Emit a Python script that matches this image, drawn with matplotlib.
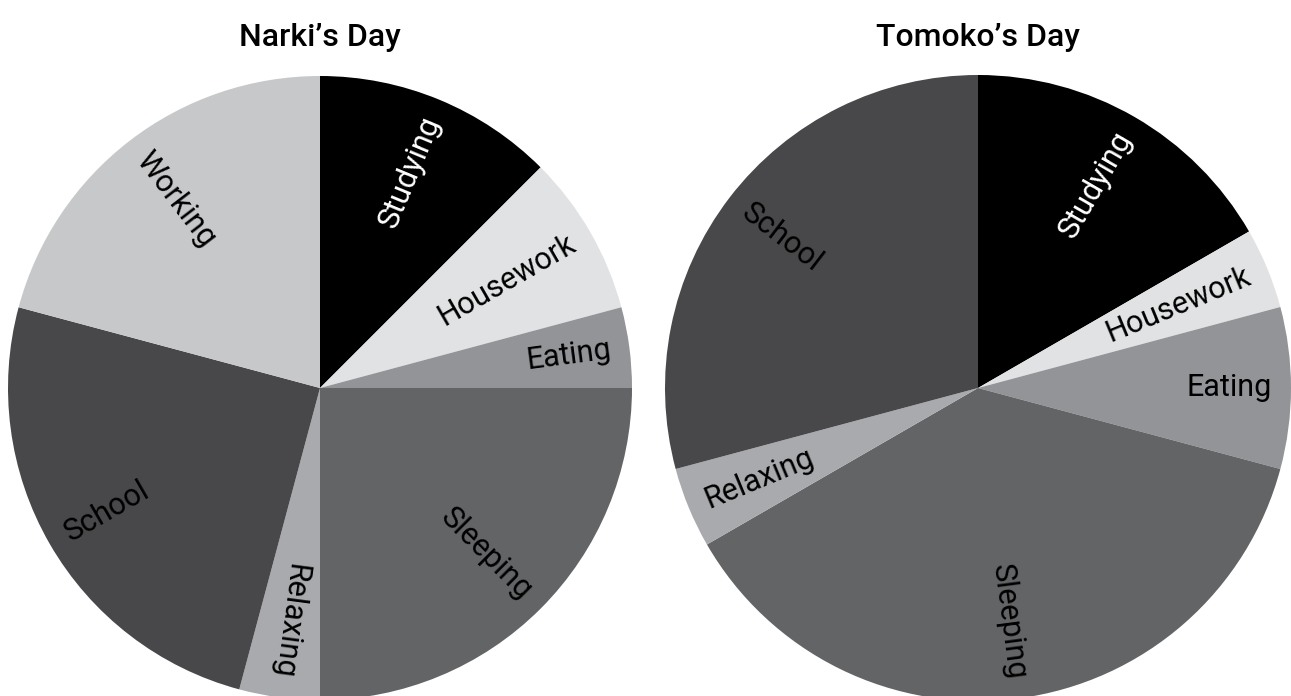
import numpy as np
import matplotlib.pyplot as plt

plt.rcParams['font.family'] = ['Roboto', 'DejaVu Sans']

# hours of a 24 hour day, clockwise from 12 o'clock
narki_labels = ["Studying", "Housework", "Eating", "Sleeping", "Relaxing", "School", "Working"]
narki_hours = [3, 2, 1, 6, 1, 6, 5]

tomoko_labels = ["Studying", "Housework", "Eating", "Sleeping", "Relaxing", "School"]
tomoko_hours = [4, 1, 2, 9, 1, 7]

colors = {
    "Studying": "#000000",
    "Housework": "#e1e2e3",
    "Eating": "#939497",
    "Sleeping": "#636466",
    "Relaxing": "#a9aaad",
    "School": "#48484a",
    "Working": "#c7c8ca",
}
text_colors = {"Studying": "white"}

fig = plt.figure(figsize=(12.91, 6.96), dpi=100)
W, H = 1291, 696


def draw_pie(cx, cy, r, title, labels, hours):
    ax = fig.add_axes([(cx - r) / W, (H - cy - r) / H, 2 * r / W, 2 * r / H])
    ax.pie(hours, colors=[colors[l] for l in labels], startangle=90,
           counterclock=False, radius=1, wedgeprops=dict(linewidth=0))
    ax.set_xlim(-1, 1)
    ax.set_ylim(-1, 1)
    ax.axis('off')
    total = sum(hours)
    start = 0
    for lab, h in zip(labels, hours):
        theta = (start + h / 2) / total * 360
        start += h
        rad = np.radians(theta)
        rt = 0.94
        x, y = rt * np.sin(rad), rt * np.cos(rad)
        rot = 90 - theta
        ha = 'right'
        if theta > 195:
            rot += 180
            ha = 'left'
        ax.text(x, y, lab, rotation=rot, rotation_mode='anchor', ha=ha,
                va='center', fontsize=22, color=text_colors.get(lab, 'black'),
                clip_on=False)
    fig.text(cx / W, 1 - 38 / H, title, ha='center', va='center',
             fontsize=23, fontweight='medium')


draw_pie(320, 388, 312, "Narki’s Day", narki_labels, narki_hours)
draw_pie(978, 388, 313, "Tomoko’s Day", tomoko_labels, tomoko_hours)

fig.savefig("out.png", dpi=100)
